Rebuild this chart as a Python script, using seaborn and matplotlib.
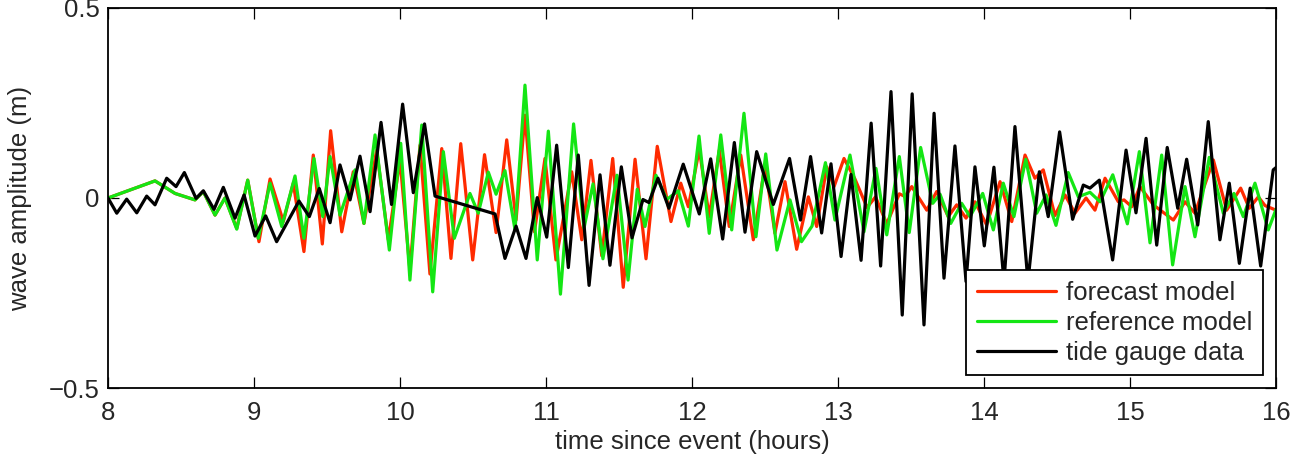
import numpy as np
import pandas as pd
import matplotlib
matplotlib.use("Agg")
import matplotlib.pyplot as plt
import seaborn as sns

# ---------------- data ----------------
forecast_t = [8.000, 8.322, 8.459, 8.596, 8.653, 8.733, 8.801, 8.882, 8.957, 9.034,
              9.110, 9.201, 9.269, 9.342, 9.406, 9.468, 9.525, 9.601, 9.680, 9.753,
              9.840, 9.920, 10.000, 10.068, 10.137, 10.205, 10.286, 10.349, 10.416, 10.498,
              10.579, 10.658, 10.731, 10.795, 10.856, 10.921, 10.993, 11.068, 11.176, 11.245,
              11.308, 11.382, 11.457, 11.529, 11.610, 11.685, 11.762, 11.856, 11.923, 11.975,
              12.050, 12.118, 12.187, 12.255, 12.334, 12.420, 12.500, 12.568, 12.637, 12.717,
              12.797, 12.854, 12.923, 12.973, 13.041, 13.116, 13.199, 13.257, 13.334, 13.420,
              13.459, 13.505, 13.608, 13.676, 13.755, 13.813, 13.877, 13.938, 14.018, 14.110,
              14.190, 14.281, 14.349, 14.406, 14.486, 14.555, 14.623, 14.699, 14.760, 14.829,
              14.920, 14.959, 15.012, 15.068, 15.160, 15.297, 15.377, 15.445, 15.571, 15.662,
              15.758, 15.817, 15.879, 15.925, 16.000]
forecast_v = [0.000, 0.045, 0.012, -0.005, 0.017, -0.045, 0.000, -0.080, 0.047, -0.115,
              0.050, -0.062, 0.039, -0.141, 0.113, -0.121, 0.177, -0.089, 0.069, -0.067,
              0.126, -0.110, 0.100, -0.190, 0.139, -0.200, 0.130, -0.159, 0.143, -0.163,
              0.114, -0.091, 0.153, -0.058, 0.218, -0.089, 0.104, -0.163, 0.069, -0.110,
              0.099, -0.152, 0.104, -0.235, 0.102, -0.160, 0.136, -0.062, 0.039, -0.023,
              0.128, -0.049, 0.126, -0.075, 0.113, -0.110, 0.087, -0.093, 0.043, -0.135,
              0.003, -0.075, 0.082, 0.030, 0.104, 0.050, -0.025, 0.003, -0.068, 0.011,
              0.004, 0.030, -0.032, 0.017, -0.049, -0.018, -0.053, -0.010, -0.071, 0.043,
              -0.062, 0.113, 0.052, 0.074, -0.046, 0.008, -0.040, 0.000, -0.032, 0.052,
              -0.010, -0.005, -0.023, 0.030, -0.018, -0.058, -0.010, -0.040, 0.100, -0.032,
              0.026, -0.027, 0.003, -0.020, -0.032]

reference_t = [8.000, 8.322, 8.459, 8.596, 8.653, 8.733, 8.801, 8.882, 8.957, 9.029,
               9.110, 9.190, 9.281, 9.342, 9.411, 9.471, 9.521, 9.589, 9.692, 9.753,
               9.829, 9.927, 10.005, 10.068, 10.149, 10.224, 10.297, 10.372, 10.479, 10.536,
               10.605, 10.658, 10.719, 10.788, 10.856, 10.940, 11.016, 11.099, 11.189, 11.260,
               11.322, 11.390, 11.486, 11.562, 11.625, 11.678, 11.753, 11.827, 11.906, 11.975,
               12.048, 12.118, 12.197, 12.272, 12.356, 12.438, 12.505, 12.582, 12.671, 12.750,
               12.822, 12.914, 12.979, 13.082, 13.178, 13.260, 13.334, 13.420, 13.488, 13.566,
               13.649, 13.699, 13.772, 13.847, 13.904, 13.991, 14.064, 14.132, 14.205, 14.286,
               14.361, 14.425, 14.493, 14.577, 14.646, 14.726, 14.795, 14.882, 14.982, 15.064,
               15.137, 15.217, 15.292, 15.377, 15.445, 15.543, 15.639, 15.712, 15.776, 15.856,
               15.947, 16.000]
reference_v = [0.000, 0.045, 0.012, -0.005, 0.017, -0.045, 0.000, -0.082, 0.047, -0.106,
               0.039, -0.075, 0.058, -0.106, 0.104, -0.049, 0.109, -0.045, 0.074, -0.067,
               0.166, -0.137, 0.144, -0.216, 0.192, -0.247, 0.122, -0.106, 0.012, -0.040,
               0.068, 0.010, 0.072, -0.084, 0.297, -0.163, 0.176, -0.253, 0.195, -0.080,
               0.037, -0.160, 0.060, -0.216, 0.023, -0.075, 0.060, -0.004, 0.019, -0.074,
               0.163, -0.093, 0.166, -0.084, 0.223, -0.102, 0.116, -0.137, -0.005, -0.115,
               -0.074, 0.093, -0.058, 0.113, -0.089, 0.078, -0.097, 0.109, -0.091, 0.133,
               -0.014, 0.010, -0.067, -0.014, -0.049, 0.012, -0.084, 0.039, -0.049, 0.102,
               -0.040, 0.008, -0.072, 0.067, 0.003, 0.015, -0.010, 0.061, -0.068, 0.122,
               -0.118, 0.113, -0.176, 0.030, -0.102, 0.107, -0.040, 0.012, -0.049, 0.039,
               -0.084, -0.030]

gauge_t = [8.000, 8.060, 8.128, 8.197, 8.265, 8.322, 8.402, 8.466, 8.523, 8.603,
           8.653, 8.726, 8.790, 8.870, 8.932, 9.007, 9.080, 9.155, 9.308, 9.379,
           9.447, 9.521, 9.589, 9.658, 9.726, 9.795, 9.870, 9.942, 10.018, 10.091,
           10.168, 10.240, 10.651, 10.719, 10.795, 10.863, 10.940, 11.005, 11.073, 11.153,
           11.221, 11.295, 11.370, 11.438, 11.516, 11.589, 11.664, 11.705, 11.767, 11.842,
           11.940, 12.050, 12.128, 12.210, 12.290, 12.363, 12.443, 12.557, 12.668, 12.743,
           12.812, 12.888, 12.952, 13.021, 13.089, 13.158, 13.227, 13.292, 13.363, 13.440,
           13.508, 13.589, 13.658, 13.726, 13.801, 13.877, 13.938, 14.002, 14.068, 14.137,
           14.212, 14.301, 14.379, 14.440, 14.518, 14.607, 14.680, 14.726, 14.790, 14.881,
           14.973, 15.041, 15.110, 15.183, 15.255, 15.327, 15.388, 15.464, 15.536, 15.616,
           15.680, 15.749, 15.823, 15.895, 15.981, 16.000]
gauge_v = [0.000, -0.040, -0.003, -0.039, 0.005, -0.018, 0.052, 0.030, 0.067, -0.001,
           0.019, -0.030, 0.028, -0.053, 0.008, -0.100, -0.047, -0.115, -0.008, -0.049,
           0.025, -0.065, 0.087, -0.005, 0.110, -0.036, 0.199, -0.017, 0.247, 0.014,
           0.195, 0.005, -0.042, -0.159, -0.074, -0.159, 0.001, -0.103, 0.139, -0.183,
           0.113, -0.230, 0.061, -0.177, 0.082, -0.105, -0.004, -0.012, 0.052, -0.027,
           0.089, -0.042, 0.103, -0.108, 0.146, -0.090, 0.122, -0.017, 0.104, -0.058,
           0.109, -0.092, 0.090, -0.154, 0.062, -0.164, 0.197, -0.179, 0.280, -0.308,
           0.274, -0.334, 0.223, -0.211, 0.137, -0.220, 0.082, -0.126, 0.081, -0.220,
           0.188, -0.220, 0.069, -0.049, 0.174, -0.056, 0.034, 0.026, 0.047, -0.163,
           0.126, -0.039, 0.157, -0.124, 0.133, -0.027, 0.102, -0.071, 0.201, -0.110,
           0.039, -0.172, 0.026, -0.179, 0.074, 0.080]

series_names = ["forecast model", "reference model", "tide gauge data"]
series_colors = ["#ff2a00", "#14e614", "#000000"]
x_ticks = [8, 9, 10, 11, 12, 13, 14, 15, 16]
y_ticks = [-0.5, 0, 0.5]
y_ticklabels = ["\u22120.5", "0", "0.5"]

df = pd.concat([
    pd.DataFrame({"t": forecast_t, "v": forecast_v, "series": series_names[0]}),
    pd.DataFrame({"t": reference_t, "v": reference_v, "series": series_names[1]}),
    pd.DataFrame({"t": gauge_t, "v": gauge_v, "series": series_names[2]}),
], ignore_index=True)

# ---------------- plot ----------------
sns.set_style("white")
plt.rcParams["font.family"] = ["Liberation Sans", "DejaVu Sans"]
FS = 18.5
plt.rcParams["font.size"] = FS

fig = plt.figure(figsize=(13.07, 4.65), dpi=100)
ax = fig.add_axes([108 / 1307, 1 - 388 / 465, (1276 - 108) / 1307, (388 - 8) / 465])

sns.lineplot(data=df, x="t", y="v", hue="series", hue_order=series_names,
             palette=series_colors, estimator=None, sort=False, linewidth=2.3,
             ax=ax, legend=True)
for ln in ax.get_lines():
    ln.set_solid_joinstyle("round")

ax.set_xlim(8, 16)
ax.set_ylim(-0.5, 0.5)
ax.set_xticks(x_ticks)
ax.set_xticklabels([str(v) for v in x_ticks])
ax.set_yticks(y_ticks)
ax.set_yticklabels(y_ticklabels)
ax.set_xlabel("time since event (hours)", fontsize=FS, labelpad=4)
ax.set_ylabel("wave amplitude (m)", fontsize=FS, labelpad=12)
ax.tick_params(axis="x", direction="in", length=8, width=0.9, top=True, bottom=True,
               labelsize=FS, pad=9, color="black")
ax.tick_params(axis="y", direction="in", length=8, width=0.9, left=True, right=True,
               labelsize=FS, pad=6, color="black")
for s in ax.spines.values():
    s.set_visible(True)
    s.set_color("black")
    s.set_linewidth(1.3)

leg = ax.legend(loc="lower right", fontsize=FS, frameon=True, fancybox=False,
                framealpha=1, edgecolor="black", handlelength=3.1,
                borderaxespad=0.5, labelspacing=0.24, borderpad=0.4,
                handletextpad=0.4)
leg.get_frame().set_linewidth(1.3)
for line in leg.get_lines():
    line.set_linewidth(2.3)

fig.savefig("out.png", dpi=100, facecolor="white")
